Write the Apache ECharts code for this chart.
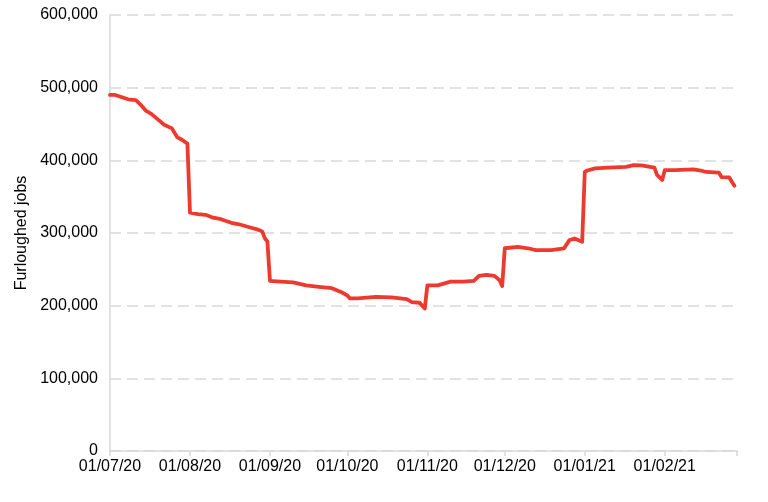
<!DOCTYPE html>
<html>
<head>
<meta charset="utf-8">
<script src="https://cdn.jsdelivr.net/npm/echarts@6/dist/echarts.min.js"></script>
<style>html,body{margin:0;padding:0;background:#fff;}#c{width:768px;height:502px;}</style>
</head>
<body>
<div id="c"></div>
<script>
// Dates and furloughed job counts
const dates = [
  '2020-07-01','2020-07-03','2020-07-08','2020-07-11','2020-07-13','2020-07-15','2020-07-17','2020-07-20','2020-07-22','2020-07-25','2020-07-27','2020-07-29','2020-07-31',
  '2020-08-01','2020-08-04','2020-08-07','2020-08-10','2020-08-13','2020-08-17','2020-08-20','2020-08-23','2020-08-27','2020-08-29','2020-08-30','2020-08-31',
  '2020-09-01','2020-09-05','2020-09-10','2020-09-15','2020-09-20','2020-09-25','2020-09-29',
  '2020-10-01','2020-10-02','2020-10-05','2020-10-12','2020-10-18','2020-10-24','2020-10-26','2020-10-29','2020-10-31',
  '2020-11-01','2020-11-05','2020-11-08','2020-11-10','2020-11-15','2020-11-19','2020-11-21','2020-11-24','2020-11-27','2020-11-29','2020-11-30',
  '2020-12-01','2020-12-06','2020-12-10','2020-12-13','2020-12-19','2020-12-24','2020-12-26','2020-12-28','2020-12-31',
  '2021-01-01','2021-01-02','2021-01-05','2021-01-10','2021-01-17','2021-01-20','2021-01-23','2021-01-28','2021-01-29','2021-01-31',
  '2021-02-01','2021-02-05','2021-02-12','2021-02-15','2021-02-17','2021-02-22','2021-02-23','2021-02-26','2021-02-27','2021-02-28'
];
const furloughedJobs = [
  490000,490000,484000,483000,476000,468000,464000,455000,449000,444000,432000,428000,423000,
  328000,326000,325000,321000,319000,314000,312000,309000,305000,302000,293000,288000,
  234000,233000,232000,228000,226000,224000,218000,
  214000,210000,210000,212000,211500,209000,205000,204000,196000,
  228000,228000,231000,233000,233000,234000,241000,242500,241000,235000,227000,
  279000,281000,279000,276500,276500,279000,290000,292500,288000,
  384000,386000,389000,390000,391000,393500,393000,390000,380000,373000,
  386500,386500,387500,386000,384000,383000,377000,376500,370500,365000
];
const tickDates = ['2020-07-01','2020-08-01','2020-09-01','2020-10-01','2020-11-01','2020-12-01','2021-01-01','2021-02-01','2021-03-01'];
const labelDates = ['2020-07-01','2020-08-01','2020-09-01','2020-10-01','2020-11-01','2020-12-01','2021-01-01','2021-02-01'];
const yTicks = [0,100000,200000,300000,400000,500000,600000];

const ts = s => { const p = s.split('-').map(Number); return new Date(p[0], p[1]-1, p[2]).getTime(); };
const pad = n => (n < 10 ? '0' : '') + n;
const font = '"Liberation Sans", Arial, sans-serif';

const chart = echarts.init(document.getElementById('c'), null, {renderer: 'canvas'});
chart.setOption({
  animation: false,
  backgroundColor: '#ffffff',
  grid: {left: 110, right: 31, top: 15, bottom: 51, containLabel: false},
  xAxis: {
    type: 'value',
    min: ts(tickDates[0]),
    max: ts(tickDates[tickDates.length-1]),
    axisLine: {show: true, lineStyle: {color: '#d9d9d9', width: 1.5}},
    axisTick: {show: true, length: 5, lineStyle: {color: '#d9d9d9', width: 1.5}, customValues: tickDates.map(ts)},
    axisLabel: {
      color: '#000', fontFamily: font, fontSize: 16, margin: 8, hideOverlap: false,
      customValues: labelDates.map(ts),
      formatter: v => { const d = new Date(v); return pad(d.getDate()) + '/' + pad(d.getMonth()+1) + '/' + String(d.getFullYear()).slice(2); }
    },
    splitLine: {show: false}
  },
  yAxis: {
    type: 'value',
    min: yTicks[0], max: yTicks[yTicks.length-1], interval: 100000,
    name: 'Furloughed jobs', nameLocation: 'middle', nameGap: 78, nameRotate: 90,
    nameTextStyle: {color: '#000', fontFamily: font, fontSize: 16},
    axisLine: {show: true, lineStyle: {color: '#d9d9d9', width: 1.5}},
    axisTick: {show: false},
    axisLabel: {color: '#000', fontFamily: font, fontSize: 16, margin: 12,
      formatter: v => v.toLocaleString('en-GB')},
    splitLine: {show: true, lineStyle: {color: '#d9d9d9', width: 1.5, type: [11, 6]}}
  },
  series: [{
    type: 'line',
    data: dates.map((d, i) => [ts(d), furloughedJobs[i]]),
    showSymbol: false,
    symbol: 'none',
    lineStyle: {color: '#ee3a2e', width: 3.8, join: 'round', cap: 'round'},
    itemStyle: {color: '#ee3a2e'}
  }]
});
</script>
</body>
</html>
